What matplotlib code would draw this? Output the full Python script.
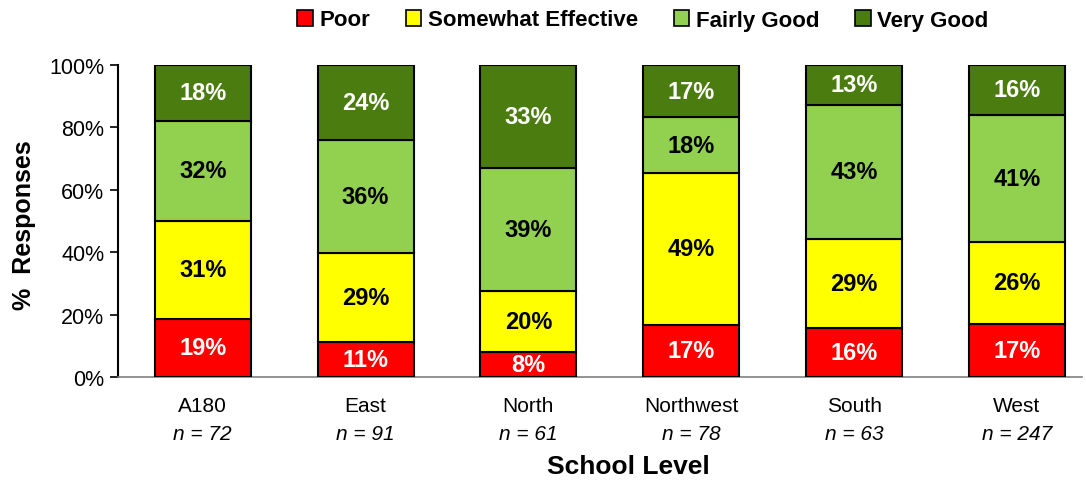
import numpy as np
import matplotlib.pyplot as plt
from matplotlib.patches import Patch

plt.rcParams['font.family'] = ['Liberation Sans', 'DejaVu Sans']

# --- Data ---
schools = ["A180", "East", "North", "Northwest", "South", "West"]
n_counts = [72, 91, 61, 78, 63, 247]
series_names = ["Poor", "Somewhat Effective", "Fairly Good", "Very Good"]
poor = [18.6, 11.2, 8.0, 16.7, 15.7, 17.0]
somewhat = [31.4, 28.6, 19.6, 48.7, 28.6, 26.3]
fairly_good = [32.1, 36.2, 39.4, 17.9, 43.0, 40.7]
very_good = [17.9, 24.0, 33.0, 16.7, 12.8, 16.0]

colors = ['#FF0000', '#FFFF00', '#92D050', '#4A7C10']
label_colors = ['white', 'black', 'black', 'white']

fig = plt.figure(figsize=(10.86, 4.81), dpi=100)
ax = fig.add_axes([0.1087, 0.2141, 0.8877, 0.6487])

x = np.arange(len(schools))
bottom = np.zeros(len(schools))
for vals, col, lc in zip([poor, somewhat, fairly_good, very_good], colors, label_colors):
    vals = np.array(vals)
    ax.bar(x, vals, 0.59, bottom=bottom, color=col, edgecolor='black', linewidth=1.5, zorder=3)
    for xi, b, v in zip(x, bottom, vals):
        ax.text(xi, b + v / 2, f"{v:.0f}%", ha='center', va='center', color=lc,
                fontsize=17, fontweight='bold', zorder=4)
    bottom += vals

ax.set_xlim(-0.52, 5.4)
ax.set_ylim(0, 100)
ax.set_yticks(np.arange(0, 101, 20))
ax.set_yticklabels([f"{t}%" for t in range(0, 101, 20)], fontsize=15.5)
ax.tick_params(axis='y', direction='out', length=6, width=1.2, pad=4)
ax.set_xticks([])
for s in ['top', 'right']:
    ax.spines[s].set_visible(False)
ax.spines['left'].set_linewidth(1.5)
ax.spines['bottom'].set_color('#808080')
ax.spines['bottom'].set_linewidth(1.2)

trans = ax.get_xaxis_transform()
for xi, name, n in zip(x, schools, n_counts):
    ax.text(xi, -0.09, name, transform=trans, ha='center', va='center', fontsize=15)
    ax.text(xi, -0.18, f"n = {n}", transform=trans, ha='center', va='center',
            fontsize=15, style='italic')

fig.text(628 / 1086, 1 - 467 / 481, "School Level", ha='center', va='center',
         fontsize=19, fontweight='bold')
fig.text(24 / 1086, 1 - 225 / 481, "%  Responses", ha='center', va='center',
         rotation=90, fontsize=18, fontweight='bold')

handles = [Patch(facecolor=c, edgecolor='black', linewidth=1.2) for c in colors]
fig.legend(handles, series_names, loc='center', bbox_to_anchor=(643 / 1086, 1 - 21 / 481),
           ncol=4, frameon=False, handlelength=0.7, handleheight=0.7, handletextpad=0.3,
           columnspacing=1.6, prop={'weight': 'bold', 'size': 16})

fig.savefig("out.png", dpi=100, facecolor='white')
